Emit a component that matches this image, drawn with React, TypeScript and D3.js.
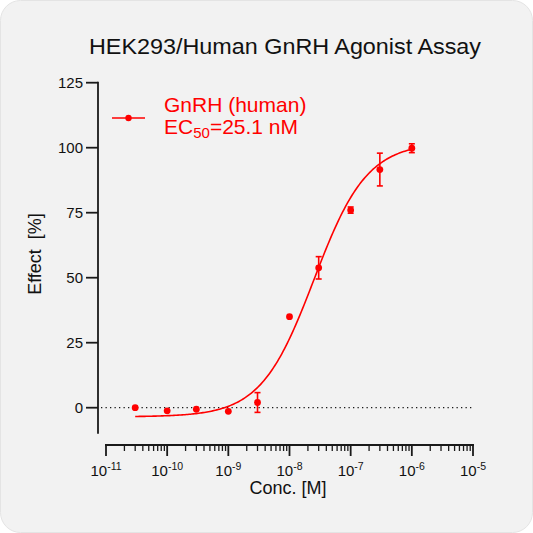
import React from 'react';
import * as d3 from 'd3';

const concentrations = [3e-11, 1e-10, 3e-10, 1e-9, 3e-9, 1e-8, 3e-8, 1e-7, 3e-7, 1e-6];
const effects = [0, -1.2, -0.6, -1.4, 2, 35, 53.8, 76, 91.6, 99.8];
const errors = [0, 0, 0, 0, 3.8, 0, 4.3, 1.2, 6.3, 1.7];

// 4PL fit shown as the line
const fitBottom = -3.5;
const fitTop = 102;
const fitEC50 = 2.51e-8;
const fitHill = 1;

const yTicks = [0, 25, 50, 75, 100, 125];
const xExponents = [-11, -10, -9, -8, -7, -6, -5];

const RED = '#ff0000';
const INK = '#1a1a1a';
const FONT = '"Liberation Sans", Arial, sans-serif';

const fourPL = (c: number) =>
  fitBottom + (fitTop - fitBottom) / (1 + Math.pow(fitEC50 / c, fitHill));

export default function App() {
  const W = 533;
  const H = 533;

  const x = d3.scaleLog().domain([1e-11, 1e-5]).range([106, 473]);
  const y = d3.scaleLinear().domain([0, 125]).range([407.7, 82.7]);

  const axisY = 445;
  const axisX = 98;

  // minor ticks 2..9 per decade
  const minor: number[] = [];
  for (let e = -11; e < -5; e++) {
    for (let m = 2; m <= 9; m++) minor.push(m * Math.pow(10, e));
  }

  const curvePts = d3.range(0, 201).map(i => {
    const lc = Math.log10(3e-11) + (i / 200) * (Math.log10(1e-6) - Math.log10(3e-11));
    return Math.pow(10, lc);
  });
  const line = d3.line<number>()
    .x(c => x(c))
    .y(c => y(fourPL(c)));

  return (
    <div style={{ position: 'fixed', left: 0, top: 0, width: W, height: H, background: '#fff' }}>
      <svg width={W} height={H} style={{ display: 'block' }} fontFamily={FONT}>
        <rect x={0.5} y={0.5} width={W - 1} height={H - 1} rx={20} fill="#f2f2f2" stroke="#e4e4e4" />

        {/* title */}
        <text x={285} y={54} textAnchor="middle" fontSize={22.5} fill="#111"
          textLength={392} lengthAdjust="spacingAndGlyphs">
          HEK293/Human GnRH Agonist Assay
        </text>

        {/* zero reference line */}
        <line x1={axisX + 3} x2={473} y1={y(0)} y2={y(0)} stroke={INK} strokeWidth={1.3}
          strokeDasharray="1.3,3.2" />

        {/* y axis */}
        <line x1={axisX} x2={axisX} y1={y(125) - 1} y2={y(-10)} stroke={INK} strokeWidth={1.8} />
        {yTicks.map(t => (
          <g key={t}>
            <line x1={axisX - 12} x2={axisX} y1={y(t)} y2={y(t)} stroke={INK} strokeWidth={1.8} />
            <text x={axisX - 15} y={y(t) + 5.3} textAnchor="end" fontSize={15} fill="#111">{t}</text>
          </g>
        ))}
        <text transform={`translate(41,254) rotate(-90)`} textAnchor="middle" fontSize={18} fill="#111"
          style={{ whiteSpace: 'pre' }}>
          {'Effect  [%]'}
        </text>

        {/* x axis */}
        <line x1={x(1e-11) - 1} x2={x(1e-5) + 1} y1={axisY} y2={axisY} stroke={INK} strokeWidth={1.8} />
        {minor.map((m, i) => (
          <line key={i} x1={x(m)} x2={x(m)} y1={axisY} y2={axisY + 6} stroke={INK} strokeWidth={1.3} />
        ))}
        {xExponents.map(e => (
          <g key={e}>
            <line x1={x(Math.pow(10, e))} x2={x(Math.pow(10, e))} y1={axisY} y2={axisY + 11}
              stroke={INK} strokeWidth={1.8} />
            <text x={x(Math.pow(10, e))} y={475.7} textAnchor="middle" fontSize={15} fill="#111">
              10<tspan dy={-6} fontSize={10.5}>{String(e)}</tspan>
            </text>
          </g>
        ))}
        <text x={288} y={494} textAnchor="middle" fontSize={18} fill="#111">Conc. [M]</text>

        {/* fitted curve */}
        <path d={line(curvePts) || ''} fill="none" stroke={RED} strokeWidth={1.6} />

        {/* error bars + points */}
        {concentrations.map((c, i) => {
          const cx = x(c);
          const err = errors[i];
          return (
            <g key={i}>
              {err > 0 && (
                <g stroke={RED} strokeWidth={1.6}>
                  <line x1={cx} x2={cx} y1={y(effects[i] + err)} y2={y(effects[i] - err)} />
                  <line x1={cx - 3} x2={cx + 3} y1={y(effects[i] + err)} y2={y(effects[i] + err)} />
                  <line x1={cx - 3} x2={cx + 3} y1={y(effects[i] - err)} y2={y(effects[i] - err)} />
                </g>
              )}
              <circle cx={cx} cy={y(effects[i])} r={3.4} fill={RED} />
            </g>
          );
        })}

        {/* legend */}
        <line x1={112} x2={145} y1={118} y2={118} stroke={RED} strokeWidth={1.6} />
        <circle cx={128.5} cy={118} r={3.2} fill={RED} />
        <text x={164} y={111.7} fontSize={21} fill={RED}>GnRH (human)</text>
        <text x={164} y={133.5} fontSize={21} fill={RED}>
          EC<tspan dy={4} fontSize={15}>50</tspan><tspan dy={-4}>=25.1 nM</tspan>
        </text>
      </svg>
    </div>
  );
}
